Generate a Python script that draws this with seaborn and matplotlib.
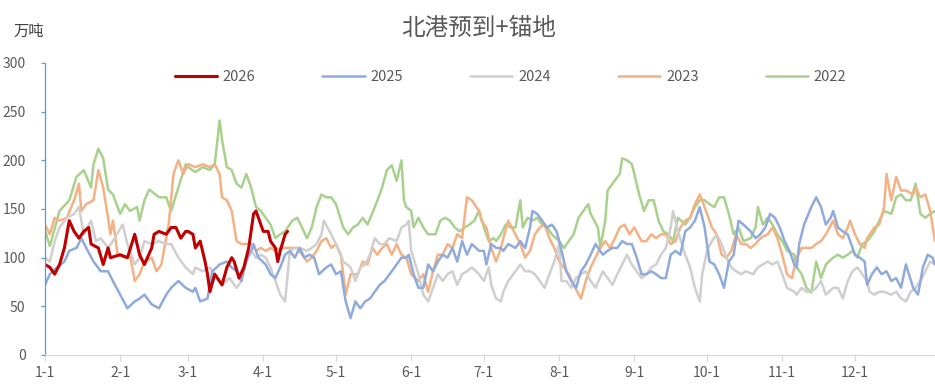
import pandas as pd
import matplotlib.pyplot as plt
import seaborn as sns

sns.set_style("white")
plt.rcParams['font.family'] = ['Noto Sans CJK SC', 'DejaVu Sans']

# x = day of year (0 = 1-1), y = 万吨
days_2026 = [0, 2, 4, 6, 8, 10, 12, 14, 16, 18,
             19, 22, 24, 26, 27, 31, 34, 37, 39, 41,
             44, 45, 47, 50, 52, 54, 56, 58, 59, 61,
             62, 64, 66, 67, 68, 70, 73, 75, 77, 78,
             80, 82, 84, 86, 87, 88, 90, 92, 93, 95,
             96, 97, 99, 100]
vals_2026 = [93, 90, 83, 93, 110, 138, 127, 120, 127, 131,
             114, 110, 93, 110, 100, 103, 100, 124, 103, 93,
             110, 124, 127, 124, 131, 131, 120, 127, 127, 124,
             110, 117, 96, 83, 65, 83, 72, 90, 100, 96,
             79, 90, 110, 145, 148, 141, 127, 127, 117, 110,
             96, 107, 124, 127]

days_2025 = [0, 2, 5, 8, 10, 13, 15, 17, 20, 23,
             26, 28, 31, 34, 37, 39, 41, 44, 47, 50,
             52, 55, 58, 61, 62, 64, 67, 69, 72, 75,
             77, 79, 81, 83, 85, 86, 88, 91, 93, 95,
             97, 99, 101, 103, 105, 107, 109, 111, 113, 116,
             118, 120, 122, 124, 126, 128, 130, 132, 134, 136,
             138, 140, 143, 145, 147, 149, 150, 152, 154, 156,
             158, 160, 162, 164, 166, 168, 170, 172, 174, 176,
             179, 181, 182, 184, 186, 188, 189, 191, 194, 196,
             198, 200, 201, 203, 205, 207, 209, 211, 213, 215,
             217, 219, 221, 223, 225, 227, 230, 232, 234, 236,
             238, 240, 242, 244, 246, 248, 250, 252, 254, 256,
             258, 260, 262, 264, 266, 268, 270, 272, 274, 276,
             278, 280, 282, 284, 286, 288, 291, 293, 295, 297,
             299, 301, 303, 305, 307, 309, 310, 311, 313, 316,
             318, 320, 322, 324, 325, 327, 329, 331, 334, 336,
             338, 339, 341, 343, 345, 347, 349, 351, 353, 355,
             358, 360, 362, 364, 366, 367]
vals_2025 = [72, 83, 90, 96, 107, 110, 120, 110, 96, 86,
             86, 76, 62, 48, 55, 58, 62, 52, 48, 62,
             69, 76, 69, 65, 69, 55, 58, 86, 93, 96,
             90, 86, 76, 96, 107, 114, 100, 93, 83, 79,
             90, 103, 107, 100, 110, 100, 103, 100, 83, 90,
             93, 83, 86, 55, 38, 55, 48, 55, 58, 65,
             72, 76, 86, 93, 100, 100, 103, 83, 69, 69,
             93, 86, 96, 103, 100, 110, 96, 117, 103, 114,
             107, 107, 93, 114, 110, 110, 107, 114, 110, 117,
             110, 131, 148, 145, 138, 131, 134, 127, 107, 86,
             76, 69, 86, 93, 103, 114, 103, 107, 110, 110,
             117, 114, 114, 100, 83, 83, 86, 83, 79, 79,
             103, 107, 103, 127, 131, 138, 152, 131, 96, 93,
             83, 69, 96, 103, 138, 134, 127, 120, 124, 131,
             145, 141, 131, 117, 107, 93, 90, 114, 134, 152,
             162, 152, 134, 141, 148, 131, 127, 124, 103, 100,
             96, 72, 83, 90, 83, 86, 76, 79, 69, 93,
             69, 62, 90, 103, 100, 93]

days_2024 = [0, 2, 4, 6, 9, 12, 14, 16, 19, 21,
             23, 26, 28, 32, 34, 37, 39, 41, 44, 47,
             50, 52, 55, 58, 61, 62, 65, 68, 70, 73,
             76, 79, 81, 83, 85, 87, 89, 91, 93, 95,
             97, 99, 101, 103, 105, 108, 110, 112, 114, 115,
             118, 120, 123, 126, 128, 130, 132, 134, 136, 138,
             140, 142, 145, 147, 149, 150, 151, 154, 156, 158,
             160, 162, 164, 166, 168, 170, 172, 174, 176, 179,
             181, 183, 184, 186, 188, 189, 191, 194, 196, 198,
             200, 202, 204, 206, 208, 210, 212, 213, 215, 217,
             219, 221, 223, 225, 227, 230, 232, 234, 236, 238,
             240, 242, 244, 246, 248, 250, 252, 254, 256, 258,
             259, 261, 264, 266, 268, 270, 271, 273, 275, 277,
             279, 281, 283, 285, 287, 289, 292, 294, 296, 298,
             300, 302, 304, 306, 309, 310, 312, 314, 316, 318,
             320, 322, 325, 327, 329, 331, 333, 335, 337, 339,
             340, 342, 344, 346, 349, 351, 353, 355, 357, 359,
             361, 363, 365, 367]
vals_2024 = [100, 96, 117, 131, 141, 145, 152, 124, 138, 117,
             120, 110, 117, 134, 114, 93, 100, 117, 114, 117,
             114, 114, 100, 90, 83, 90, 86, 90, 83, 72,
             79, 69, 76, 100, 107, 100, 103, 100, 90, 76,
             62, 55, 107, 110, 110, 107, 110, 114, 124, 138,
             124, 114, 96, 90, 76, 90, 93, 103, 120, 114,
             114, 120, 117, 131, 134, 138, 107, 83, 62, 55,
             69, 83, 76, 83, 86, 72, 83, 86, 90, 83,
             76, 90, 72, 58, 55, 65, 76, 86, 93, 86,
             86, 83, 76, 69, 83, 96, 114, 76, 76, 69,
             79, 83, 86, 76, 69, 86, 79, 72, 83, 93,
             103, 93, 86, 79, 83, 90, 93, 103, 110, 131,
             148, 127, 103, 90, 69, 55, 83, 107, 117, 124,
             114, 100, 90, 86, 83, 86, 83, 90, 93, 96,
             93, 96, 83, 69, 65, 62, 69, 65, 65, 69,
             76, 62, 69, 69, 58, 76, 86, 90, 83, 76,
             65, 62, 65, 65, 62, 65, 58, 55, 65, 69,
             76, 86, 96, 93]

days_2023 = [0, 2, 4, 6, 9, 12, 14, 15, 17, 20,
             22, 24, 26, 27, 28, 30, 33, 35, 37, 39,
             41, 44, 46, 48, 51, 53, 55, 57, 59, 62,
             65, 68, 70, 72, 73, 75, 77, 79, 81, 83,
             85, 87, 89, 91, 93, 95, 97, 99, 102, 104,
             106, 108, 110, 112, 114, 116, 118, 120, 122, 124,
             126, 129, 131, 133, 135, 137, 139, 141, 143, 145,
             147, 149, 151, 154, 156, 158, 160, 162, 164, 166,
             168, 170, 172, 174, 176, 179, 180, 182, 184, 186,
             188, 189, 191, 194, 196, 198, 200, 202, 204, 206,
             208, 210, 212, 214, 216, 218, 221, 223, 225, 227,
             229, 231, 233, 235, 237, 239, 241, 243, 246, 248,
             250, 252, 254, 256, 258, 260, 262, 264, 266, 268,
             270, 271, 273, 275, 277, 279, 281, 283, 285, 287,
             289, 291, 293, 295, 298, 300, 302, 304, 306, 308,
             310, 312, 314, 316, 318, 320, 322, 325, 327, 329,
             331, 332, 334, 336, 338, 339, 342, 344, 346, 347,
             349, 351, 353, 355, 358, 359, 361, 363, 365, 367]
vals_2023 = [134, 124, 141, 138, 141, 159, 176, 148, 155, 159,
             190, 172, 141, 124, 138, 103, 100, 103, 76, 83,
             96, 100, 86, 93, 134, 186, 200, 186, 196, 193,
             196, 193, 196, 186, 162, 159, 148, 117, 114, 114,
             114, 107, 110, 107, 110, 107, 110, 110, 110, 110,
             103, 96, 100, 107, 117, 120, 110, 114, 103, 62,
             83, 83, 96, 93, 110, 103, 110, 114, 103, 114,
             103, 100, 83, 76, 83, 65, 86, 103, 103, 114,
             110, 124, 120, 162, 159, 148, 138, 131, 110, 96,
             110, 120, 138, 124, 114, 100, 107, 124, 131, 134,
             120, 110, 96, 90, 83, 72, 58, 76, 90, 100,
             110, 117, 110, 120, 131, 134, 124, 131, 117, 117,
             124, 120, 124, 124, 114, 117, 131, 138, 141, 155,
             165, 159, 145, 131, 124, 103, 100, 107, 124, 114,
             114, 110, 114, 120, 124, 131, 120, 103, 83, 79,
             100, 110, 110, 110, 114, 117, 124, 138, 124, 120,
             131, 138, 124, 114, 110, 120, 131, 134, 152, 186,
             159, 183, 169, 169, 165, 172, 162, 165, 148, 117]

days_2022 = [0, 2, 4, 6, 10, 13, 16, 19, 20, 22,
             24, 26, 28, 31, 33, 35, 38, 39, 41, 43,
             47, 50, 52, 55, 58, 59, 62, 65, 68, 70,
             72, 73, 75, 77, 79, 81, 83, 85, 87, 89,
             91, 93, 95, 97, 99, 102, 104, 106, 108, 110,
             112, 114, 116, 118, 120, 123, 125, 127, 129, 131,
             133, 136, 138, 139, 141, 143, 145, 147, 148, 149,
             151, 152, 154, 156, 158, 161, 163, 165, 167, 169,
             171, 173, 175, 177, 179, 181, 183, 185, 186, 188,
             190, 192, 194, 196, 197, 199, 201, 203, 205, 207,
             209, 212, 214, 216, 218, 220, 222, 224, 225, 228,
             229, 231, 232, 234, 237, 238, 240, 242, 243, 245,
             247, 249, 251, 253, 255, 257, 259, 261, 264, 266,
             268, 270, 272, 274, 276, 278, 280, 282, 284, 286,
             288, 291, 293, 294, 296, 298, 300, 302, 304, 306,
             309, 310, 312, 314, 316, 318, 320, 322, 325, 327,
             329, 331, 333, 335, 337, 339, 340, 342, 344, 346,
             349, 351, 353, 355, 357, 359, 361, 363, 365, 367]
vals_2022 = [128, 112, 130, 148, 159, 183, 190, 172, 196, 212,
             202, 170, 165, 145, 155, 148, 152, 138, 159, 170,
             162, 162, 148, 172, 196, 193, 188, 193, 190, 196,
             241, 221, 193, 190, 176, 172, 186, 172, 152, 148,
             141, 134, 120, 124, 127, 138, 141, 131, 120, 131,
             152, 165, 162, 162, 155, 131, 124, 131, 134, 141,
             134, 152, 165, 172, 190, 195, 179, 200, 159, 152,
             148, 131, 141, 131, 124, 124, 138, 141, 138, 131,
             127, 131, 134, 138, 148, 131, 117, 120, 117, 124,
             134, 131, 131, 159, 131, 141, 138, 141, 134, 131,
             124, 117, 110, 117, 124, 141, 148, 155, 145, 131,
             110, 138, 169, 176, 186, 202, 200, 196, 186, 165,
             148, 159, 159, 138, 127, 124, 117, 141, 134, 141,
             152, 159, 159, 155, 152, 162, 162, 145, 124, 131,
             117, 120, 131, 152, 134, 141, 134, 124, 117, 107,
             103, 90, 83, 69, 64, 96, 79, 93, 100, 103,
             100, 103, 107, 100, 114, 117, 120, 127, 138, 148,
             145, 162, 165, 159, 159, 176, 145, 141, 145, 148]

years = ['2026', '2025', '2024', '2023', '2022']
month_starts = [0, 31, 59, 90, 120, 151, 181, 212, 243, 273, 304, 334]
month_labels = ['1-1', '2-1', '3-1', '4-1', '5-1', '6-1',
                '7-1', '8-1', '9-1', '10-1', '11-1', '12-1']

colors = {'2026': '#C00000', '2025': '#8FAADC', '2024': '#CFCFCF',
          '2023': '#F4B183', '2022': '#A9D18E'}
widths = {'2026': 2.2, '2025': 1.8, '2024': 1.8, '2023': 1.8, '2022': 1.8}

series = {
    '2026': (days_2026, vals_2026),
    '2025': (days_2025, vals_2025),
    '2024': (days_2024, vals_2024),
    '2023': (days_2023, vals_2023),
    '2022': (days_2022, vals_2022),
}
df = pd.concat([pd.DataFrame({'day': d, 'value': v, 'year': y})
                for y, (d, v) in series.items()], ignore_index=True)

fig = plt.figure(figsize=(9.35, 3.85), dpi=100)
ax = fig.add_axes([45 / 935, 30 / 385, 890 / 935, 292 / 385])

# oldest first so 2026 ends up on top
for y in years[::-1]:
    sub = df[df['year'] == y]
    sns.lineplot(data=sub, x='day', y='value', ax=ax, color=colors[y],
                 lw=widths[y], label=y, estimator=None, sort=False)

ax.set_xlim(0, 367)
ax.set_ylim(0, 300)
ax.set_yticks(range(0, 301, 50))
ax.set_xticks(month_starts)
ax.set_xticklabels(month_labels)
ax.set_xlabel('')
ax.set_ylabel('')

for s in ['top', 'right']:
    ax.spines[s].set_visible(False)
ax.spines['left'].set_color('#5B9BD5')
ax.spines['left'].set_linewidth(0.9)
ax.spines['bottom'].set_color('#D9D9D9')
ax.spines['bottom'].set_linewidth(0.9)
ax.tick_params(axis='y', direction='out', length=3, width=0.9, color='#5B9BD5',
               labelsize=10, labelcolor='#595959', pad=11, left=True)
ax.tick_params(axis='x', direction='out', length=4, width=0.9, color='#D9D9D9',
               labelsize=10, labelcolor='#595959', pad=4, bottom=True)

handles, labels = ax.get_legend_handles_labels()
order = [labels.index(y) for y in years]
ax.legend([handles[i] for i in order], years, loc='center',
          bbox_to_anchor=(0.523, 0.952), ncol=5, frameon=False,
          fontsize=10.5, handlelength=2.9, handletextpad=0.4,
          columnspacing=4.6, labelcolor='#595959')

fig.text(0.512, 0.927, '北港预到+锚地', ha='center', va='center',
         fontsize=17, color='#595959')
fig.text(0.031, 0.918, '万吨', ha='center', va='center',
         fontsize=11, color='#404040')

fig.savefig('out.png', dpi=100)
